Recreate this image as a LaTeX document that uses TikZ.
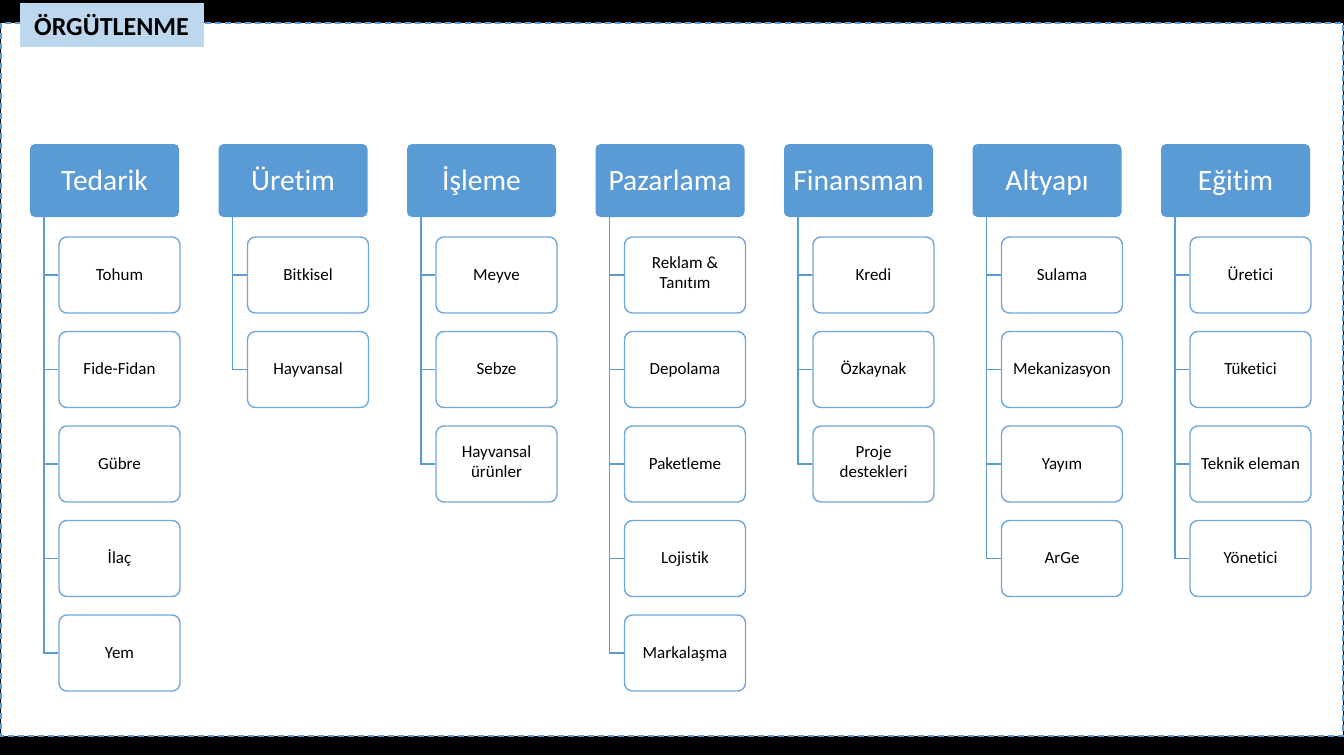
\documentclass[tikz,border=0pt]{standalone}
\usepackage{fontspec}
\setmainfont{Carlito}[Ligatures={NoCommon}]
\definecolor{hdr}{HTML}{5B9BD5}
\definecolor{ttl}{HTML}{BDD7EE}
\definecolor{brd}{HTML}{6FA8DC}
\begin{document}
\begin{tikzpicture}[x=1pt,y=-1pt,
  hbox/.style={fill=hdr,draw=none,rounded corners=5pt,minimum width=149pt,minimum height=73pt,text=white,font=\fontsize{29.5}{31}\selectfont,inner sep=0pt,text height=26pt,text depth=7pt},
  cbox/.style={fill=white,draw=brd,line width=1.4pt,rounded corners=8pt,minimum width=121pt,minimum height=76pt,font=\fontsize{17}{19.5}\selectfont,align=center,inner sep=0pt,execute at begin node={\rule{0pt}{16pt}},execute at end node={\rule[-5.1pt]{0pt}{1pt}}},
  link/.style={draw=hdr,line width=1.4pt}]
\useasboundingbox (0,0) rectangle (1344,755);
\fill[black] (0,0) rectangle (1344,755);
\fill[white] (1,23) rectangle (1343,736);
\draw[hdr,dashed,line width=1.2pt,dash pattern=on 6pt off 4pt] (1,23) rectangle (1343,736);
\node[fill=ttl,minimum width=184pt,minimum height=44pt,inner sep=0pt,font=\fontsize{26}{28}\selectfont\bfseries] (title) at (111.5,25) {ÖRGÜTLENME};
\foreach \i/\h/\kids in {1/Tedarik/{Tohum,Fide-Fidan,Gübre,İlaç,Yem},
  2/Üretim/{Bitkisel,Hayvansal},
  3/İşleme/{Meyve,Sebze,Hayvansal\\ürünler},
  4/Pazarlama/{Reklam \&\\Tanıtım,Depolama,Paketleme,Lojistik,Markalaşma},
  5/Finansman/{Kredi,Özkaynak,Proje\\destekleri},
  6/Altyapı/{Sulama,Mekanizasyon,Yayım,ArGe},
  7/Eğitim/{Üretici,Tüketici,Teknik eleman,Yönetici}}{
  \node[hbox] (h\i) at ({104.5+188.5*(\i-1)},180.5) {\h};
  \foreach \k [count=\j] in \kids {
    \node[cbox] (c\i-\j) at ({119.5+188.5*(\i-1)},{275+94.5*(\j-1)}) {\k};
    \draw[link] ([xshift=14pt]h\i.south west) |- (c\i-\j.west);
  }
}
\end{tikzpicture}
\end{document}
